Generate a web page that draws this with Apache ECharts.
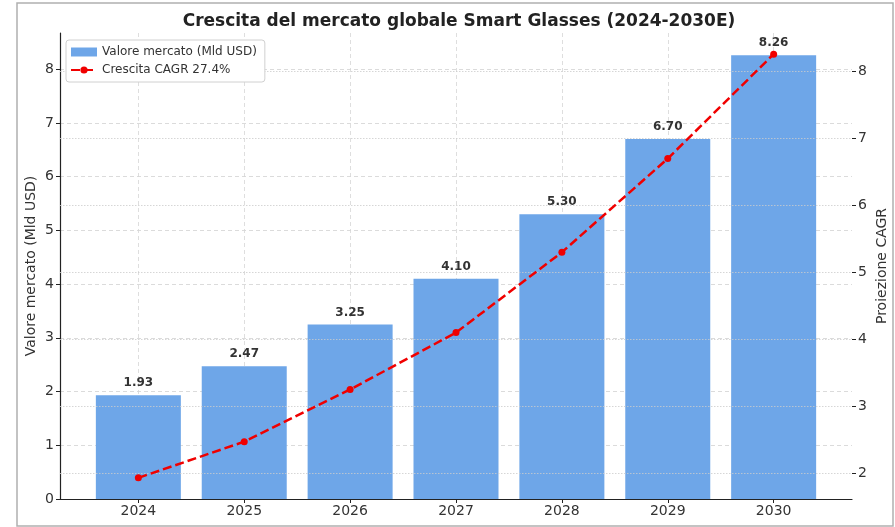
<!DOCTYPE html>
<html>
<head>
<meta charset="utf-8">
<script src="https://cdn.jsdelivr.net/npm/echarts@6/dist/echarts.min.js"></script>
<style>
html,body{margin:0;padding:0;background:#fff;}
#chart{width:895px;height:527px;}
</style>
</head>
<body>
<div id="chart"></div>
<script>
const categories = ['2024', '2025', '2026', '2027', '2028', '2029', '2030'];
const marketValues = [1.93, 2.47, 3.25, 4.10, 5.30, 6.70, 8.26];
const cagrValues = [1.93, 2.47, 3.25, 4.10, 5.30, 6.70, 8.26];
const leftTicks = [0, 1, 2, 3, 4, 5, 6, 7, 8];
const rightTicks = [2, 3, 4, 5, 6, 7, 8];
const titleText = 'Crescita del mercato globale Smart Glasses (2024-2030E)';
const barName = 'Valore mercato (Mld USD)';
const lineName = 'Crescita CAGR 27.4%';
const leftAxisName = 'Valore mercato (Mld USD)';
const rightAxisName = 'Proiezione CAGR';

const FONT = 'DejaVu Sans';
const catIdx = categories.map((c, i) => i);

const chart = echarts.init(document.getElementById('chart'), null, {renderer: 'canvas'});
const option = {
  animation: false,
  backgroundColor: '#fff',
  textStyle: {fontFamily: FONT},
  graphic: [{
    type: 'rect', z: -10, silent: true,
    shape: {x: 17, y: 3, width: 876, height: 523},
    style: {fill: '#fff', stroke: '#b0b0b0', lineWidth: 1.5}
  }],
  title: {
    text: titleText,
    left: 454, top: 8, textAlign: 'center',
    textStyle: {fontFamily: FONT, fontSize: 17, fontWeight: 'bold', color: '#222'}
  },
  legend: {
    orient: 'vertical',
    left: 66, top: 40,
    padding: [6, 8, 6, 4],
    itemGap: 6,
    itemWidth: 26, itemHeight: 9,
    backgroundColor: '#fff',
    borderColor: '#d0d0d0', borderWidth: 1, borderRadius: 3,
    textStyle: {fontFamily: FONT, fontSize: 12, color: '#333'},
    data: [
      {name: barName, icon: 'rect'},
      {name: lineName}
    ]
  },
  grid: {left: 60, right: 43, top: 33, bottom: 28, outerBoundsMode: 'none', containLabel: false},
  xAxis: {
    type: 'value',
    min: -0.74, max: 6.74,
    axisLine: {show: true, onZero: false, lineStyle: {color: '#222', width: 1.2}},
    axisTick: {show: true, customValues: catIdx, length: 4, lineStyle: {color: '#222'}},
    axisLabel: {
      customValues: catIdx, margin: 5,
      fontFamily: FONT, fontSize: 14, color: '#333',
      formatter: v => categories[Math.round(v)]
    },
    splitLine: {show: true, lineStyle: {color: '#d6d6d6', type: [4, 3], width: 0.8}}
  },
  yAxis: [{
    type: 'value',
    min: 0, max: 8.673,
    name: leftAxisName, nameLocation: 'middle', nameGap: 22, nameMoveOverlap: false,
    nameTextStyle: {fontFamily: FONT, fontSize: 14, color: '#333'},
    axisLine: {show: true, onZero: false, lineStyle: {color: '#222', width: 1.2}},
    axisTick: {show: true, customValues: leftTicks, length: 4, lineStyle: {color: '#222'}},
    axisLabel: {customValues: leftTicks, margin: 6, fontFamily: FONT, fontSize: 14, color: '#333'},
    splitLine: {show: true, lineStyle: {color: '#d2d2d2', type: [4, 3], width: 0.8}}
  }, {
    type: 'value',
    position: 'right',
    min: 1.6135, max: 8.5765,
    z: 3,
    name: rightAxisName, nameLocation: 'middle', nameGap: 23, nameMoveOverlap: false,
    nameTextStyle: {fontFamily: FONT, fontSize: 14, color: '#333'},
    axisLine: {show: false, onZero: false},
    axisTick: {show: true, customValues: rightTicks, length: 4, lineStyle: {color: '#222'}},
    axisLabel: {customValues: rightTicks, margin: 6, fontFamily: FONT, fontSize: 14, color: '#333'},
    splitLine: {show: true, lineStyle: {color: '#cbcbcb', type: [1.5, 1.5], width: 0.8}}
  }],
  series: [{
    name: barName,
    type: 'bar',
    xAxisIndex: 0, yAxisIndex: 0,
    barWidth: 85,
    z: 2,
    itemStyle: {color: '#6EA6E8'},
    label: {
      show: true, position: 'top', distance: 6,
      fontFamily: FONT, fontSize: 12, fontWeight: 'bold', color: '#333',
      formatter: p => p.value[1].toFixed(2)
    },
    data: marketValues.map((v, i) => [catIdx[i], v])
  }, {
    name: lineName,
    type: 'line',
    xAxisIndex: 0, yAxisIndex: 1,
    z: 5,
    symbol: 'circle', symbolSize: 7,
    itemStyle: {color: '#F00000'},
    lineStyle: {color: '#F00000', width: 2.5, type: [9, 4]},
    data: cagrValues.map((v, i) => [catIdx[i], v])
  }]
};
chart.setOption(option);
</script>
</body>
</html>
